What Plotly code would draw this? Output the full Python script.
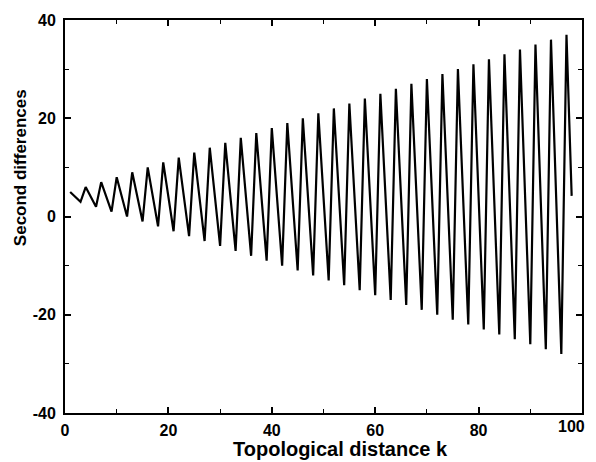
import plotly.graph_objects as go

# peaks at k = 1, 4, 7, ..., 97
peak_values = [5, 6, 7, 8, 9, 10, 11, 12, 13, 14, 15, 16, 17, 18, 19, 20, 21,
               22, 23, 24, 25, 26, 27, 28, 29, 30, 31, 32, 33, 34, 35, 36, 37]
# intermediate points at k = 2, 5, 8, ..., 98
mid_values = [4, 4, 4, 4, 4, 4, 4, 4, 4, 4, 4, 4, 4, 4, 4, 4, 4,
              4, 4, 4, 4, 4, 4, 4, 4, 4, 4, 4, 4, 4, 4, 4, 4.2]
# troughs at k = 3, 6, 9, ..., 96
trough_values = [3, 2, 1, 0, -1, -2, -3, -4, -5, -6, -7, -8, -9, -10, -11, -12,
                 -13, -14, -15, -16, -17, -18, -19, -20, -21, -22, -23, -24,
                 -25, -26, -27, -28]

x_ticks = [0, 20, 40, 60, 80, 100]
x_ticktext = ["0", "20", "40", "60", "80", ""]   # "100" drawn below so it is not clipped
y_ticks = [-40, -20, 0, 20, 40]
y_ticktext = ["-40", "-20", "0", "20", "40"]

# interleave into one series ordered by k
k_vals = []
second_diff = []
for i in range(len(peak_values)):
    k_vals.append(3 * i + 1)
    second_diff.append(peak_values[i])
    k_vals.append(3 * i + 2)
    second_diff.append(mid_values[i])
    if i < len(trough_values):
        k_vals.append(3 * i + 3)
        second_diff.append(trough_values[i])

fnt = dict(family="Liberation Sans, Arial, sans-serif", color="black", weight="bold")

fig = go.Figure(go.Scatter(x=k_vals, y=second_diff, mode="lines",
                           line=dict(color="black", width=2.2)))

axis_common = dict(
    showgrid=False, zeroline=False, showline=True, linecolor="black", linewidth=2,
    mirror="allticks", ticks="inside", ticklen=6, tickwidth=1.5, tickcolor="black",
    tickfont=dict(size=16, **fnt), automargin=False,
)

fig.update_xaxes(range=[0, 100], tickvals=x_ticks, ticktext=x_ticktext,
                 minor=dict(tickvals=[10, 30, 50, 70, 90], ticks="inside",
                            ticklen=4, tickwidth=1.2, tickcolor="black"),
                 ticklabelstandoff=2,
                 **axis_common)
fig.update_yaxes(range=[-40, 40], tickvals=y_ticks, ticktext=y_ticktext,
                 minor=dict(tickvals=[-30, -10, 10, 30], ticks="inside",
                            ticklen=4, tickwidth=1.2, tickcolor="black"),
                 ticklabelstandoff=4,
                 **axis_common)

# last x tick label, right-anchored so it stays inside the page
fig.add_annotation(text="100", xref="x", yref="paper", x=x_ticks[-1], y=0,
                   xanchor="right", xshift=5, yanchor="top", yshift=-3,
                   showarrow=False, font=dict(size=16, **fnt))

# axis titles placed as annotations (pixel offsets from the plot area)
fig.add_annotation(text="Topological distance k", xref="paper", yref="paper",
                   x=0.532, y=0, yshift=-36, yanchor="middle", showarrow=False,
                   font=dict(size=20, **fnt))
fig.add_annotation(text="Second differences", xref="paper", yref="paper",
                   x=0, xshift=-45, y=0.623, xanchor="center", yanchor="middle",
                   textangle=-90, showarrow=False, font=dict(size=17, **fnt))

# the page body adds an 8px margin, so the figure is sized to fit inside it
fig.update_layout(
    width=588, height=454,
    margin=dict(l=57, r=14, t=12, b=49),
    paper_bgcolor="white", plot_bgcolor="white",
    showlegend=False,
)

fig.write_html("out.html")
